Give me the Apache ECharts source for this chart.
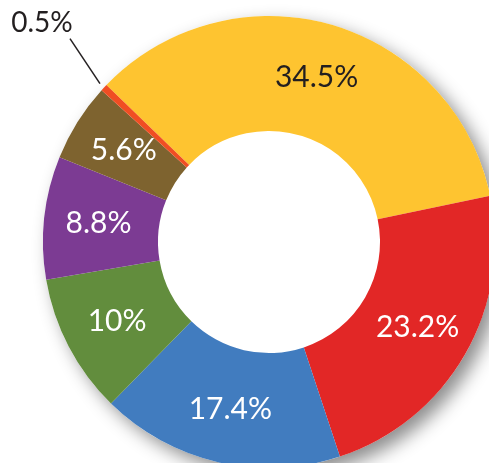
<!DOCTYPE html>
<html><head><meta charset="utf-8">
<script src="https://cdn.jsdelivr.net/npm/echarts@6/dist/echarts.min.js"></script>
<style>html,body{margin:0;padding:0;background:#fff;}#c{width:489px;height:463px;}</style>
</head><body><div id="c"></div>
<script>
const categories = ['A','B','C','D','E','F','G'];
const values = [34.5, 23.2, 17.4, 10, 8.8, 5.6, 0.5];
const labels = ['34.5%','23.2%','17.4%','10%','8.8%','5.6%','0.5%'];
const colors = ['#FEC430','#E22726','#417CBF','#628D3D','#7C3B93','#7E632F','#F04E23'];
const labelColors = ['#231F20','#fff','#fff','#fff','#fff','#fff','#231F20'];

const chart = echarts.init(document.getElementById('c'), null, {renderer:'canvas'});
const fontFamily = 'Lato, "Open Sans", sans-serif';
const data = values.map((v,i)=>{
  const d = {name: categories[i], value: v, itemStyle:{color: colors[i]},
    label:{color: labelColors[i]}};
  if (i === 6) {
    d.label = {position:'outside', color: labelColors[i], fontSize: 28, distance: 2};
    d.labelLine = {show:true, length: 50, length2: 0, lineStyle:{color:'#231F20', width:1.5}};
  }
  return d;
});
chart.setOption({
  backgroundColor:'#ffffff',
  animation:false,
  series:[
    {
      type:'pie', silent:true, center:[269,242], radius:[0,226], z:1,
      label:{show:false}, labelLine:{show:false},
      itemStyle:{color:'#ffffff', shadowBlur:18, shadowColor:'rgba(0,0,0,0.45)', shadowOffsetX:8, shadowOffsetY:8},
      data:[{value:1}]
    },
    {
      type:'pie', center:[269,242], radius:[111,226], startAngle:136, clockwise:true,
      z:2, avoidLabelOverlap:false,
      label:{show:true, position:'inside', fontFamily: fontFamily, fontSize: 30, fontWeight: 400,
        formatter: p => labels[p.dataIndex]},
      labelLine:{show:false},
      labelLayout: function(p){
        if (p.dataIndex===6 && p.labelLinePoints) {
          const s = p.labelLinePoints[0];
          const start = [s[0]-4, s[1]-4];
          const end = [start[0]-30, start[1]-45];
          return {x: end[0]-28, y: end[1]-2, align:'center', verticalAlign:'bottom',
                  labelLinePoints:[start, end, end]};
        }
      },
      itemStyle:{borderWidth:0},
      data: data
    }
  ]
});
</script></body></html>
